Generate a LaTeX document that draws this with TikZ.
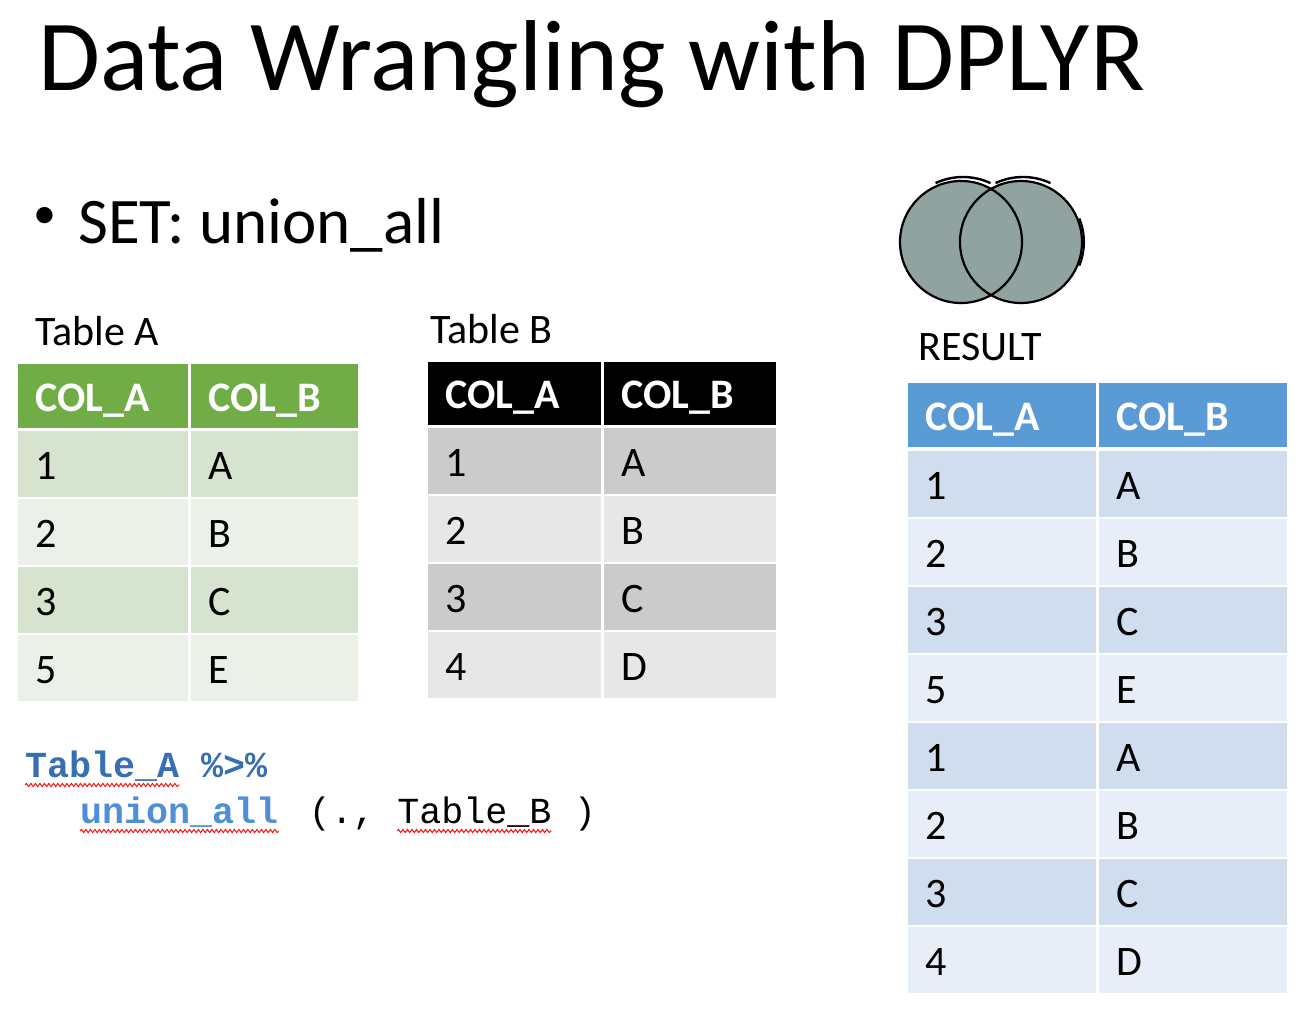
\documentclass[tikz,border=0pt]{standalone}
\usepackage{fontspec}
\setmainfont{Carlito}
\newfontfamily\codefont{Liberation Mono}
\usetikzlibrary{positioning,decorations.pathmorphing}
\definecolor{grnhd}{HTML}{70AD47}
\definecolor{grnd}{HTML}{D5E3CF}
\definecolor{grnl}{HTML}{EBF1E9}
\definecolor{gryd}{HTML}{CBCBCB}
\definecolor{gryl}{HTML}{E7E7E7}
\definecolor{bluhd}{HTML}{5B9BD5}
\definecolor{blud}{HTML}{CFDDEE}
\definecolor{blul}{HTML}{E8EEF7}
\definecolor{venn}{HTML}{91A3A0}
\definecolor{codeblue}{HTML}{3670B3}
\definecolor{funblue}{HTML}{4F8FD8}
\tikzset{
  cell/.style={anchor=north west, inner xsep=17pt, inner ysep=0pt, align=left,
    text height=34.5pt, text depth=4pt, minimum height=66pt,
    font=\fontsize{42}{42}\selectfont},
  head/.style={cell, minimum height=64pt, text=white, font=\fontsize{42}{42}\selectfont\bfseries},
  label/.style={anchor=base west, inner sep=0pt, font=\fontsize{42}{42}\selectfont},
  code/.style={anchor=base west, inner sep=0pt, font=\fontsize{36.7}{36.7}\codefont},
  squiggle/.style={red, line width=0.9pt, decorate,
    decoration={snake, amplitude=1.6pt, segment length=4.5pt}},
}
\begin{document}
\begin{tikzpicture}[x=1pt, y=-1pt]
\fill[white] (0,0) rectangle (1316,1012);
\useasboundingbox (0,0) rectangle (1316,1012);
% title and bullet
\node[anchor=base west, inner sep=0pt, font=\fontsize{100.7}{100.7}\selectfont] (title) at (38,90) {Data Wrangling with DPLYR};
\node[inner sep=0pt, font=\fontsize{46}{46}\selectfont] (dot) at (45,218) {•};
\node[anchor=base west, inner sep=0pt, font=\fontsize{65}{65}\selectfont] (set) at (78,243) {SET: union\_all};
% venn
\fill[venn] (961,242) circle[radius=61];
\fill[venn] (1021,242) circle[radius=61];
\draw[line width=2.2pt] (961,242) circle[radius=61];
\draw[line width=2.2pt] (1021,242) circle[radius=61];
\draw[line width=2.4pt] (963,242) ++(-115:65) arc[start angle=-115, end angle=-65, radius=65];
\draw[line width=2.4pt] (1023,242) ++(-115:65) arc[start angle=-115, end angle=-65, radius=65];
\draw[line width=2pt] (1021,242) ++(-22:63) arc[start angle=-22, end angle=22, radius=63];
% labels
\node[label] (labA) at (35,345) {Table A};
\node[label] (labB) at (430,343) {Table B};
\node[label] (labR) at (918,360) {RESULT};
% table A
\node[head, fill=grnhd, minimum width=170pt, text width=136pt] (a-0-1) at (18,364) {COL\_A};
\node[head, fill=grnhd, minimum width=167pt, text width=133pt] (a-0-2) at (191,364) {COL\_B};
\foreach \va/\vb/\c [count=\r] in {1/A/grnd,2/B/grnl,3/C/grnd,5/E/grnl}{
  \node[cell, fill=\c, minimum width=170pt, text width=136pt] (a-\r-1) at (18,{431+68*(\r-1)}) {\va};
  \node[cell, fill=\c, minimum width=167pt, text width=133pt] (a-\r-2) at (191,{431+68*(\r-1)}) {\vb};
}
% table B
\node[head, fill=black, minimum height=63pt, minimum width=173pt, text width=139pt] (b-0-1) at (428,362) {COL\_A};
\node[head, fill=black, minimum height=63pt, minimum width=172pt, text width=138pt] (b-0-2) at (604,362) {COL\_B};
\foreach \va/\vb/\c [count=\r] in {1/A/gryd,2/B/gryl,3/C/gryd,4/D/gryl}{
  \node[cell, fill=\c, minimum width=173pt, text width=139pt] (b-\r-1) at (428,{428+68*(\r-1)}) {\va};
  \node[cell, fill=\c, minimum width=172pt, text width=138pt] (b-\r-2) at (604,{428+68*(\r-1)}) {\vb};
}
% result
\node[head, fill=bluhd, minimum width=188pt, text width=154pt] (r-0-1) at (908,383) {COL\_A};
\node[head, fill=bluhd, minimum width=188pt, text width=154pt] (r-0-2) at (1099,383) {COL\_B};
\foreach \va/\vb/\c [count=\r] in {1/A/blud,2/B/blul,3/C/blud,5/E/blul,1/A/blud,2/B/blul,3/C/blud,4/D/blul}{
  \node[cell, fill=\c, minimum width=188pt, text width=154pt] (r-\r-1) at (908,{451+68*(\r-1)}) {\va};
  \node[cell, fill=\c, minimum width=188pt, text width=154pt] (r-\r-2) at (1099,{451+68*(\r-1)}) {\vb};
}
% code
\node[code, text=codeblue, font=\fontsize{36.7}{36.7}\codefont\bfseries] (tblA) at (25,777) {Table\_A};
\node[code, text=codeblue, font=\fontsize{36.7}{36.7}\codefont\bfseries] (pipe) at ([xshift=22pt]tblA.base east) {\%>\%};
\node[code, text=funblue, font=\fontsize{36.7}{36.7}\codefont\bfseries] (fun) at (80,823) {union\_all};
\node[code] (args) at ([xshift=30pt]fun.base east) {(.,};
\node[code] (tblB) at ([xshift=22pt]args.base east) {Table\_B};
\node[code] (close) at ([xshift=22pt]tblB.base east) {)};
\draw[squiggle] ([yshift=-8pt]tblA.base west) -- ([yshift=-8pt]tblA.base east);
\draw[squiggle] ([yshift=-8pt]fun.base west) -- ([yshift=-8pt]fun.base east);
\draw[squiggle] ([yshift=-8pt]tblB.base west) -- ([yshift=-8pt]tblB.base east);
\end{tikzpicture}
\end{document}
